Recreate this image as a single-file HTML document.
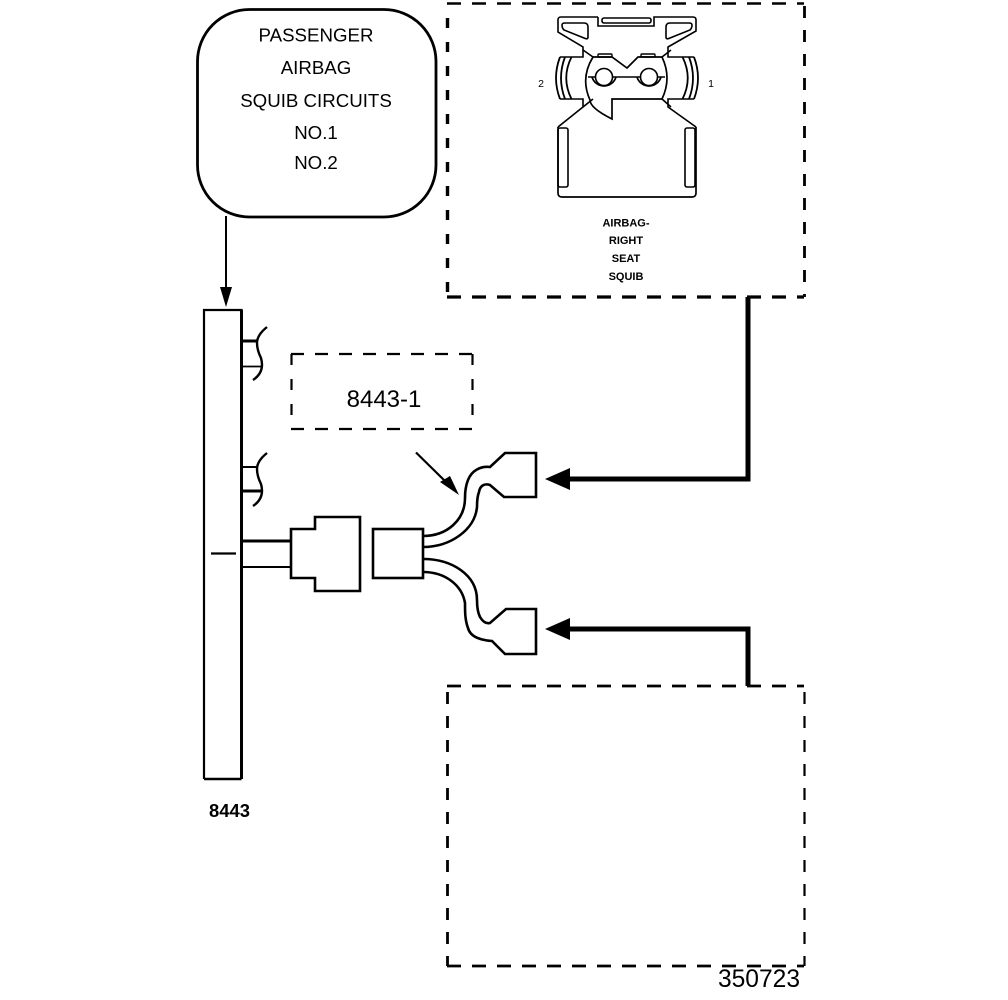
<!DOCTYPE html>
<html>
<head>
<meta charset="utf-8">
<style>
html,body{margin:0;padding:0;background:#fff;}
svg{display:block;}
text{font-family:"Liberation Sans",sans-serif;fill:#000;text-anchor:middle;}
.b{font-weight:bold;}
.t{font-size:18.7px;}
.s{font-size:11px;}
</style>
</head>
<body>
<svg width="1008" height="1000" viewBox="0 0 1008 1000" xmlns="http://www.w3.org/2000/svg">
<rect width="1008" height="1000" fill="#fff"/>

<!-- rounded source box -->
<rect x="197.5" y="9.5" width="238.5" height="207.5" rx="52" ry="52" fill="none" stroke="#000" stroke-width="2.8"/>
<text class="t" x="316" y="41.5">PASSENGER</text>
<text class="t" x="316" y="74">AIRBAG</text>
<text class="t" x="316" y="107">SQUIB CIRCUITS</text>
<text class="t" x="316" y="139">NO.1</text>
<text class="t" x="316" y="169">NO.2</text>

<!-- top arrow -->
<line x1="226" y1="216" x2="226" y2="290" stroke="#000" stroke-width="2"/>
<polygon points="220,287 232,287 226,307" fill="#000"/>

<!-- top dashed box -->
<g fill="none" stroke="#000" stroke-width="3">
<path d="M447 3.5H804" stroke-width="2.4" stroke-dasharray="14 11"/>
<path d="M447 297H804" stroke-width="3.2" stroke-dasharray="14 11"/>
<path d="M447.5 18V297" stroke-width="3.4" stroke-dasharray="10 14"/>
<path d="M804.5 6V297" stroke-width="2.8" stroke-dasharray="12 12"/>
</g>

<!-- connector face drawing -->
<g fill="none" stroke="#000" stroke-width="1.6">
<path d="M598 17V26H654V17H693Q696 17 696 20V31L668 47V57H682M598 17H561Q558 17 558 20V32L583 47V57H572"/>
<path d="M560 57H572M558 127L583 107V99H560M696 127L668 107V99H694M682 57H694"/>
<rect x="602" y="18" width="49" height="5" rx="2"/>
<path d="M565 23H584Q588 23 588 27V37Q588 40 584 38L564 30Q562 28 562 25Q562 23 565 23Z"/>
<path d="M689 23H670Q666 23 666 27V37Q666 40 670 38L690 30Q692 28 692 25Q692 23 689 23Z"/>
<!-- side arcs -->
<path d="M560 57Q552 78 560 99M565 57Q557 78 565 99M571.5 57Q561 78 571.5 99" stroke-width="1.8"/>
<path d="M694 57Q702 78 694 99M689 57Q697 78 689 99M682.5 57Q693 78 682.5 99" stroke-width="1.8"/>
<!-- central body -->
<path d="M593 57H612L627 68L638 57H662Q672 78 662 99H612V119Q590 108 590 100Q580 78 593 57Z" stroke-width="1.7"/>
<path d="M583 50L593 57M671 50L662 57M583 107L593 99M671 107L662 99"/>
<rect x="598" y="54" width="14" height="3" rx="1" stroke-width="1.4"/>
<rect x="641" y="54" width="14" height="3" rx="1" stroke-width="1.4"/>
<path d="M588 77H665"/>
<circle cx="604" cy="77" r="8.5" fill="#fff"/>
<circle cx="649" cy="77" r="8.5" fill="#fff"/>
<path d="M592 77A12.5 12.5 0 0 0 616 77M637 77A12.5 12.5 0 0 0 661 77" stroke-width="1.7"/>
<!-- lower body -->
<path d="M558 127V193Q558 197 562 197H692Q696 197 696 193V127" stroke-width="1.7"/>
<rect x="558" y="128" width="10" height="59" rx="2"/>
<rect x="685" y="128" width="10" height="59" rx="2"/>
</g>
<text class="s" x="541" y="87" style="font-size:10.5px">2</text>
<text class="s" x="711" y="87" style="font-size:10.5px">1</text>
<text class="b s" x="626" y="226.5">AIRBAG-</text>
<text class="b s" x="626" y="244">RIGHT</text>
<text class="b s" x="626" y="262">SEAT</text>
<text class="b s" x="626" y="280">SQUIB</text>

<!-- vertical module bar -->
<g fill="none" stroke="#000">
<path d="M204 779V310H241.5V779" stroke-width="2.2"/>
<path d="M241.5 310V779" stroke-width="3"/>
<path d="M204 779H241.5" stroke-width="2.5"/>
<path d="M211 553.5H236" stroke-width="2.2"/>
<path d="M242 341H258" stroke-width="3"/>
<path d="M242 366.5H262" stroke-width="1.7"/>
<path d="M267 327Q257 335 257 343Q257 350 261 358Q265 372 253 380" stroke-width="2.4"/>
<path d="M242 467H258" stroke-width="2"/>
<path d="M242 491H262" stroke-width="3"/>
<path d="M267 453Q257 461 257 469Q257 476 261 484Q265 498 253 506" stroke-width="2.4"/>
<path d="M242 541H291" stroke-width="3"/>
<path d="M242 567H291" stroke-width="2"/>
</g>
<text class="b" x="229.5" y="817" style="font-size:18.4px">8443</text>

<!-- dashed label box -->
<g fill="none" stroke="#000" stroke-width="2.2">
<path d="M291 354H473" stroke-dasharray="13 11"/>
<path d="M291 429H473" stroke-dasharray="13 11"/>
<path d="M291.5 354V429" stroke-dasharray="11 14"/>
<path d="M472.5 354V429" stroke-dasharray="11 14"/>
</g>
<text x="384" y="407" style="font-size:24px">8443-1</text>

<!-- pointer arrow -->
<line x1="416" y1="452.5" x2="445" y2="481" stroke="#000" stroke-width="2.2"/>
<polygon points="440,482 450,476 459,495" fill="#000"/>

<!-- plug -->
<g fill="none" stroke="#000" stroke-width="2.6">
<path d="M291 529H315V517H360V591H315V578H291Z"/>
<rect x="373" y="529" width="50" height="49"/>
<path d="M423 536C447 536 465 520 465 498C465 490 466 485 468 480C472 470 481 466 490 467L505 453H536V497H504L490 485C484 483 480 486 479 492C477 497 477 502 477 507C475 530 450 547 423 547"/>
<path d="M423 559C452 559 477 575 477 600C477 608 478 613 480 617C483 622 486 624 490 623L506 609H536V654H505L492 641C478 640 470 636 468 628C465 620 465 612 465 603C462 585 445 572 423 572"/>
</g>

<!-- thick leads -->
<g fill="none" stroke="#000" stroke-width="5">
<path d="M748 297V479H568"/>
<path d="M748 686V629H568"/>
</g>
<polygon points="545,479 570,468 570,490" fill="#000"/>
<polygon points="545,629 570,618 570,640" fill="#000"/>

<!-- lower dashed box -->
<g fill="none" stroke="#000" stroke-width="2.8">
<path d="M447 686H804" stroke-dasharray="14 11"/>
<path d="M447 966H804" stroke-dasharray="14 11"/>
<path d="M447.5 692V966" stroke-dasharray="12 12"/>
<path d="M804.5 692V966" stroke-width="2.2" stroke-dasharray="12 12"/>
</g>
<text x="759" y="987" style="font-size:24.6px">350723</text>
</svg>
</body>
</html>
